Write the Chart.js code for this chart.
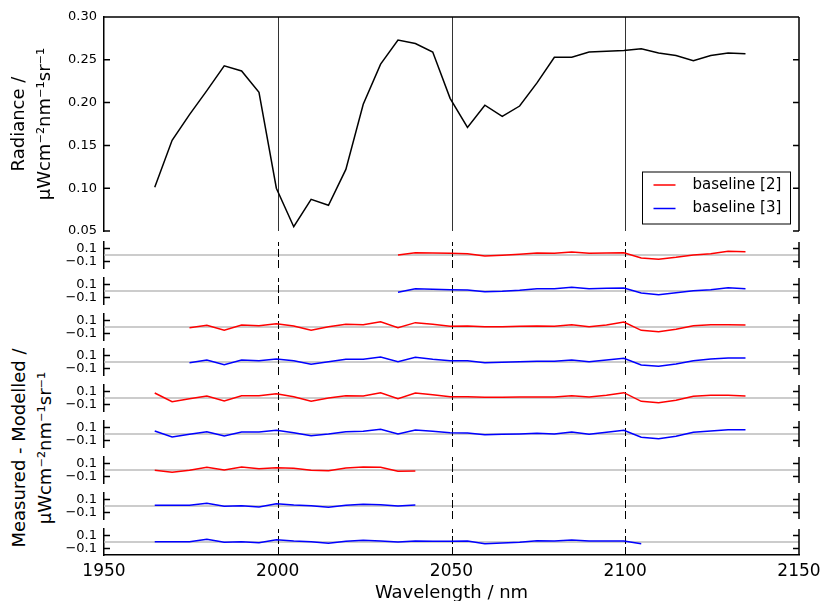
<!DOCTYPE html>
<html>
<head>
<meta charset="utf-8">
<script src="https://cdn.jsdelivr.net/npm/chart.js@4.4.1/dist/chart.umd.min.js"></script>
<style>
  body { margin: 0; background: #fff; overflow: hidden; }
  #fig { position: relative; width: 822px; height: 601px; overflow: hidden; background: #fff; }
  #fig canvas { position: absolute; left: 0; }
  #resLabel {
    position: absolute; left: -128px; top: 422px; width: 320px; height: 52px;
    font: 18px "DejaVu Sans", sans-serif; line-height: 26px; text-align: center;
    color: #000; transform: rotate(-90deg); white-space: nowrap;
  }
</style>
</head>
<body>
<div id="fig">
  <div id="resLabel">Measured - Modelled /<br>μWcm⁻²nm⁻¹sr⁻¹</div>
</div>
<script>
const wavelength = [1964.6, 1969.6, 1974.6, 1979.6, 1984.6, 1989.6, 1994.6, 1999.6, 2004.6, 2009.6,
  2014.6, 2019.6, 2024.6, 2029.6, 2034.6, 2039.6, 2044.6, 2049.6, 2054.6, 2059.6,
  2064.6, 2069.6, 2074.6, 2079.6, 2084.6, 2089.6, 2094.6, 2099.6, 2104.6, 2109.6,
  2114.6, 2119.6, 2124.6, 2129.6, 2134.6];
const radiance = [0.101, 0.156, 0.186, 0.214, 0.243, 0.237, 0.212, 0.100, 0.055, 0.087,
  0.080, 0.122, 0.198, 0.245, 0.273, 0.269, 0.259, 0.205, 0.171, 0.197,
  0.184, 0.196, 0.223, 0.253, 0.253, 0.259, 0.260, 0.261, 0.263, 0.258,
  0.255, 0.249, 0.255, 0.258, 0.257];

const radianceTicks = [0.05, 0.10, 0.15, 0.20, 0.25, 0.30];
const residualTicks = [-0.1, 0.1];
const wavelengthTicks = [1950, 2000, 2050, 2100, 2150];
const markerLines = [2000, 2050, 2100];

const seriesNames = ['baseline [2]', 'baseline [3]'];
const seriesColors = ['#ff0000', '#0000ff'];

// residual panels, top to bottom
const res1 = [0, 0.036, 0.03, 0.026, 0.02, -0.015, -0.005, 0.01, 0.03, 0.026, 0.046, 0.026,
  0.03, 0.036, -0.045, -0.065, -0.036, 0, 0.02, 0.056, 0.05];
const res2 = [-0.02, 0.036, 0.026, 0.02, 0.015, -0.01, -0.005, 0.01, 0.036, 0.036, 0.056, 0.036,
  0.041, 0.046, -0.03, -0.056, -0.026, 0.005, 0.02, 0.051, 0.036];
const res3 = [-0.01, 0.026, -0.051, 0.031, 0.02, 0.051, 0.015, -0.051, 0.005, 0.041, 0.036,
  0.082, -0.01, 0.067, 0.041, 0.01, 0.015, 0.005, 0.005, 0.01, 0.015, 0.01, 0.036, 0.005,
  0.031, 0.077, -0.051, -0.072, -0.036, 0.02, 0.036, 0.036, 0.031];
const res4 = [-0.01, 0.031, -0.041, 0.031, 0.02, 0.046, 0.02, -0.036, 0.005, 0.041, 0.041,
  0.077, 0.005, 0.072, 0.041, 0.02, 0.02, -0.01, -0.005, 0.005, 0.01, 0.01, 0.031, 0.005,
  0.031, 0.056, -0.046, -0.067, -0.031, 0.02, 0.046, 0.062, 0.062];
const res5 = [0.077, -0.056, -0.01, 0.031, -0.046, 0.036, 0.036, 0.067, 0.02, -0.051, 0, 0.036, 0.031,
  0.082, -0.01, 0.077, 0.051, 0.02, 0.02, 0.01, 0.01, 0.015, 0.015, 0.015, 0.036, 0.015,
  0.041, 0.082, -0.051, -0.072, -0.036, 0.026, 0.041, 0.041, 0.031];
const res6 = [0.046, -0.046, -0.005, 0.036, -0.031, 0.031, 0.031, 0.056, 0.02, -0.026, 0, 0.036, 0.041,
  0.072, 0, 0.062, 0.041, 0.02, 0.015, -0.01, -0.005, 0, 0.01, 0, 0.031, -0.005,
  0.026, 0.056, -0.051, -0.072, -0.036, 0.026, 0.046, 0.067, 0.067];
const res7 = [-0.005, -0.036, -0.005, 0.041, 0, 0.046, 0.02, 0.036, 0.026, -0.005, -0.01, 0.031, 0.046,
  0.041, -0.02, -0.015];
const res8 = [0.01, 0.01, 0.01, 0.041, -0.005, 0.005, -0.015, 0.036, 0.015, 0.005, -0.02, 0.01, 0.026,
  0.02, 0, 0.015];
const res9 = [0.005, 0.005, 0.005, 0.041, -0.005, 0.005, -0.01, 0.036, 0.015, 0.005, -0.02, 0.01, 0.026,
  0.015, 0, 0.015, 0.01, 0.01, 0.015, -0.026, -0.015, -0.005, 0.02, 0.015, 0.031, 0.015,
  0.015, 0.015, -0.026];

const panelValues = [res1, res2, res3, res4, res5, res6, res7, res8, res9];
const panelSeries = [0, 1, 0, 1, 0, 1, 0, 1, 1];
const panelStart = [2034.6, 2034.6, 1974.6, 1974.6, 1964.6, 1964.6, 1964.6, 1964.6, 1964.6];

Chart.defaults.font.family = '"DejaVu Sans", sans-serif';
Chart.defaults.color = '#000';

const fig = document.getElementById('fig');
const W = 822;
const AXIS_W = 104;     // left edge of plot area
const RIGHT_PAD = 23;   // plot area ends at x = 799

function addCanvas(top, height) {
  const c = document.createElement('canvas');
  c.width = W;
  c.height = height;
  c.style.top = top + 'px';
  c.style.width = W + 'px';
  c.style.height = height + 'px';
  fig.appendChild(c);
  return c;
}

function points(values, start) {
  const i0 = wavelength.indexOf(start);
  return values.map((v, i) => ({ x: wavelength[i0 + i], y: v }));
}

// keep the layout padding as the only margin around the plot area
function fixY(s) {
  s.width = AXIS_W;
  s.paddingTop = 0;
  s.paddingBottom = 0;
}

// spines, inward ticks, reference lines and legend
const framePlugin = {
  id: 'frame',
  beforeDatasetsDraw(chart, args, opts) {
    const { ctx, chartArea: a, scales: { x, y } } = chart;
    ctx.save();
    if (opts.zeroLine) {
      const yz = y.getPixelForValue(0);
      ctx.strokeStyle = '#bbbbbb';
      ctx.lineWidth = 1.5;
      ctx.beginPath();
      ctx.moveTo(a.left, yz);
      ctx.lineTo(a.right, yz);
      ctx.stroke();
    }
    ctx.strokeStyle = opts.dashed ? '#000' : '#333';
    ctx.lineWidth = 1;
    ctx.setLineDash(opts.dashed ? [8, 3] : []);
    markerLines.forEach(m => {
      const px = Math.round(x.getPixelForValue(m)) + 0.5;
      ctx.beginPath();
      ctx.moveTo(px, a.bottom);
      ctx.lineTo(px, a.top);
      ctx.stroke();
    });
    ctx.restore();
  },
  afterDraw(chart, args, opts) {
    const { ctx, chartArea: a, scales: { y } } = chart;
    ctx.save();
    ctx.strokeStyle = '#000';
    ctx.lineWidth = 1.5;
    ctx.beginPath();
    ctx.moveTo(a.right, a.top);
    ctx.lineTo(a.right, a.bottom);
    if (opts.topSpine) {
      ctx.moveTo(a.left, a.top);
      ctx.lineTo(a.right, a.top);
    }
    y.ticks.forEach(t => {
      const py = y.getPixelForValue(t.value);
      ctx.moveTo(a.left, py);
      ctx.lineTo(a.left + 6, py);
      ctx.moveTo(a.right - 6, py);
      ctx.lineTo(a.right, py);
    });
    ctx.stroke();

    if (opts.legend) {
      const bw = 148, bh = 52;
      const bx = a.right - 8.5 - bw, by = a.bottom - 7 - bh;
      ctx.fillStyle = '#fff';
      ctx.fillRect(bx, by, bw, bh);
      ctx.lineWidth = 1;
      ctx.strokeRect(bx, by, bw, bh);
      ctx.font = '15px "DejaVu Sans", sans-serif';
      ctx.textBaseline = 'middle';
      seriesNames.forEach((name, i) => {
        const ly = by + 13 + i * 23.5;
        ctx.strokeStyle = seriesColors[i];
        ctx.lineWidth = 1.5;
        ctx.beginPath();
        ctx.moveTo(bx + 11, ly);
        ctx.lineTo(bx + 33, ly);
        ctx.stroke();
        ctx.fillStyle = '#000';
        ctx.fillText(name, bx + 50, ly);
      });
    }
    ctx.restore();
  }
};

function xScale(show) {
  return {
    type: 'linear',
    min: 1950,
    max: 2150,
    display: show,
    afterBuildTicks: s => { s.ticks = wavelengthTicks.map(v => ({ value: v })); },
    grid: { display: false, drawTicks: false },
    border: { display: show, color: '#000', width: 1.5 },
    ticks: { font: { size: 17 }, padding: 6, maxRotation: 0, autoSkip: false, callback: v => String(v) },
    title: {
      display: show,
      text: 'Wavelength / nm',
      font: { size: 18 },
      padding: { top: 0, bottom: 1 }
    },
    afterFit: s => {
      if (show) s.height = 50;
      s.paddingLeft = 0;
      s.paddingRight = 0;
    }
  };
}

// radiance panel
new Chart(addCanvas(0, 242), {
  type: 'line',
  data: {
    datasets: [{
      label: 'Radiance',
      data: points(radiance, wavelength[0]),
      borderColor: '#000',
      borderWidth: 1.5,
      pointRadius: 0,
      tension: 0,
      fill: false
    }]
  },
  options: {
    responsive: false,
    animation: false,
    events: [],
    devicePixelRatio: 1,
    layout: { padding: { top: 17, bottom: 11, left: 0, right: RIGHT_PAD } },
    plugins: {
      legend: { display: false },
      tooltip: { enabled: false },
      frame: { topSpine: true, legend: true }
    },
    scales: {
      x: xScale(false),
      y: {
        min: 0.05,
        max: 0.30,
        afterBuildTicks: s => { s.ticks = radianceTicks.map(v => ({ value: v })); },
        afterFit: fixY,
        grid: { display: false, drawTicks: false },
        border: { display: true, color: '#000', width: 1.5 },
        ticks: { font: { size: 13 }, padding: 7, autoSkip: false, callback: v => v.toFixed(2) },
        title: {
          display: true,
          text: ['Radiance /', 'μWcm⁻²nm⁻¹sr⁻¹'],
          font: { size: 18, lineHeight: 26 / 18 },
          padding: { top: 6, bottom: 0 }
        }
      }
    }
  },
  plugins: [framePlugin]
});

// residual panels
panelValues.forEach((vals, i) => {
  const last = i === panelValues.length - 1;
  const top = Math.round(241.7 + 35.9 * i);
  const s = panelSeries[i];
  const canvasTop = top - 10;
  const height = last ? 605 - canvasTop : 46;
  new Chart(addCanvas(canvasTop, height), {
    type: 'line',
    data: {
      datasets: [{
        label: seriesNames[s],
        data: points(vals, panelStart[i]),
        borderColor: seriesColors[s],
        borderWidth: 1.5,
        pointRadius: 0,
        tension: 0,
        fill: false
      }]
    },
    options: {
      responsive: false,
      animation: false,
      events: [],
      devicePixelRatio: 1,
      layout: { padding: { top: 10, bottom: last ? 0 : 10, left: 0, right: RIGHT_PAD } },
      plugins: {
        legend: { display: false },
        tooltip: { enabled: false },
        frame: { zeroLine: true, dashed: true }
      },
      scales: {
        x: xScale(last),
        y: {
          min: -0.2,
          max: 0.2,
          afterBuildTicks: sc => { sc.ticks = residualTicks.map(v => ({ value: v })); },
          afterFit: fixY,
          grid: { display: false, drawTicks: false },
          border: { display: true, color: '#000', width: 1.5 },
          ticks: {
            font: { size: 13 },
            padding: 7,
            autoSkip: false,
            callback: v => (v < 0 ? '\u2212' : '') + Math.abs(v).toFixed(1)
          }
        }
      }
    },
    plugins: [framePlugin]
  });
});
</script>
</body>
</html>
